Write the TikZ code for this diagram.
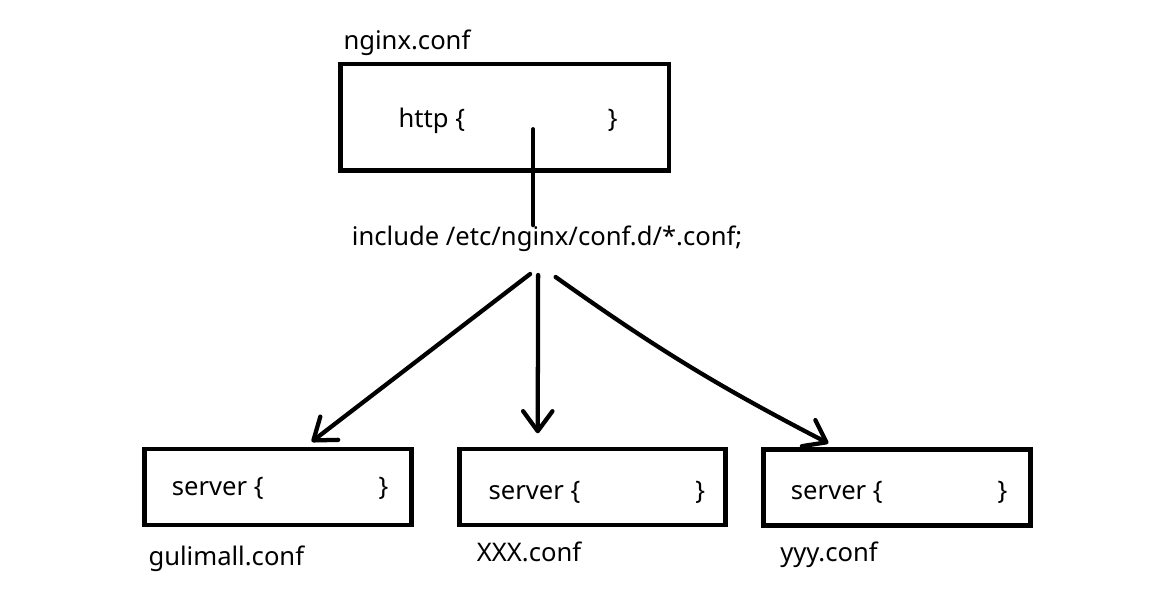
\documentclass[tikz,border=0pt]{standalone}
\usepackage{fontspec}
\setmainfont{Noto Sans}
\usetikzlibrary{arrows.meta}

\begin{document}
\begin{tikzpicture}[x=0.75pt,y=-0.75pt,
  box/.style={draw=black,line width=3.6pt,inner sep=0pt,outer sep=0pt,minimum height=57pt},
  txt/.style={inner sep=0pt,anchor=base west,font=\fontsize{19.2}{22}\selectfont},
  lin/.style={line width=3.2pt,line cap=round},
  arr/.style={lin,-{Straight Barb[round,length=15pt,width=22pt]}}]
  \useasboundingbox (0,0) rectangle (1162,593);
  \node[box,minimum width=246.4pt,minimum height=79.9pt] (nginx) at (504.75,117.25) {};
  \node[box,minimum width=200pt] (gm) at (278,487) {};
  \node[box,minimum width=199.5pt] (xxx) at (592.8,487) {};
  \node[box,minimum width=200pt] (yyy) at (897.2,487.8) {};
  \node[txt] (nginxlbl) at (343.3,49.3) {nginx.conf};
  \node[txt] (httpopen) at (398.3,127.3) {http \{};
  \node[txt] (httpclose) at (607.7,127.3) {\}};
  \node[txt] (inc) at (351.7,245) {include /etc/nginx/conf.d/*.conf;};
  \node[txt] (gmopen) at (171.7,495) {server \{};
  \node[txt] (gmclose) at (378.3,495) {\}};
  \node[txt] (xxxopen) at (488.3,499.3) {server \{};
  \node[txt] (xxxclose) at (695,499.3) {\}};
  \node[txt] (yyyopen) at (790.7,499.3) {server \{};
  \node[txt] (yyyclose) at (997.3,499.3) {\}};
  \node[txt] (gmlbl) at (148.3,565.7) {gulimall.conf};
  \node[txt] (xxxlbl) at (476.7,561.7) {XXX.conf};
  \node[txt] (yyylbl) at (780,561.7) {yyy.conf};
  \coordinate (httpdrop) at ([shift={(28.5,12)}]nginx.center);
  \draw[lin] (httpdrop) -- (httpdrop |- inc.north);
  \draw[arr] ([shift={(-17,29)}]inc.base) -- ([shift={(33.7,-7.3)}]gm.north);
  \draw[arr] ([shift={(-9,30)}]inc.base) -- ([shift={(-55.1,-15.7)}]xxx.north);
  \draw[arr] ([shift={(8.5,32)}]inc.base) to[bend right=4] ([shift={(-68.9,-6.5)}]yyy.north);
\end{tikzpicture}
\end{document}
